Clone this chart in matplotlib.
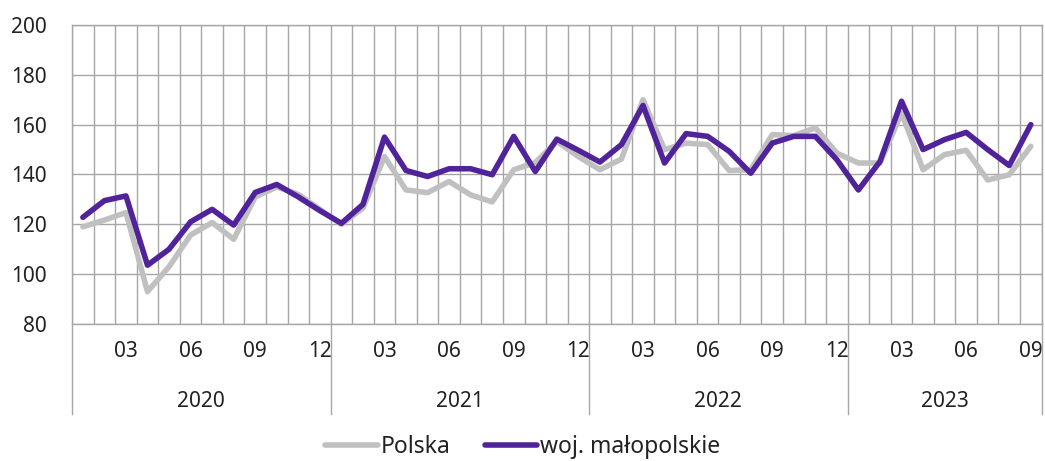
import matplotlib.pyplot as plt
import numpy as np

plt.rcParams['font.family'] = ['Noto Sans', 'DejaVu Sans']

years = ['2020', '2021', '2022', '2023']
months_per_year = [12, 12, 12, 9]

polska = [119, 121.7, 124.7, 93, 103, 115.7, 120.7, 114, 131, 135, 132, 126,
          120, 126.5, 147.2, 133.8, 132.7, 137.2, 131.8, 129, 141.9, 144.8, 153.3, 147.2,
          141.9, 146.2, 170, 150, 152.6, 152, 141.6, 141.9, 156, 155.6, 158.7, 148.6,
          144.6, 144.6, 164.7, 141.9, 148, 149.7, 137.8, 139.9, 151.3]
malopolskie = [122.8, 129.5, 131.4, 103.6, 110, 121, 126, 119.7, 132.8, 136, 131, 125.5,
               120.4, 128, 155, 141.6, 139.2, 142.3, 142.3, 139.9, 155.3, 141.2, 154.2, 149.7,
               145, 152, 167.7, 144.6, 156.4, 155.3, 149.3, 140.5, 152.6, 155.3, 155.3, 145.9,
               133.8, 145.2, 169.4, 150, 154, 156.9, 150, 143.6, 160]

n = len(polska)
x = np.arange(n)
month_nums = [m + 1 for cnt in months_per_year for m in range(cnt)]

fig = plt.figure(figsize=(10.45, 4.61), dpi=100)
ax = fig.add_axes([0.069, 0.2972, 0.9277, 0.6486])

grid_col = '#a6a6a6'
txt_col = '#222222'
fs = 15

ax.plot(x, polska, color='#c0c0c0', lw=4, solid_capstyle='round', label='Polska', zorder=3)
ax.plot(x, malopolskie, color='#51239a', lw=4, solid_capstyle='round', label='woj. małopolskie', zorder=4)

ax.set_xlim(-0.5, n - 0.5)
ax.set_ylim(80, 200)
ax.set_yticks(np.arange(80, 201, 20))
ax.yaxis.grid(True, color=grid_col, lw=1)
for b in np.arange(-0.5, n, 1):
    ax.axvline(b, color=grid_col, lw=1, zorder=1)
for s in ax.spines.values():
    s.set_color(grid_col)
    s.set_linewidth(1)

lab_pos = [i for i in x if month_nums[i] % 3 == 0]
ax.set_xticks(lab_pos)
ax.set_xticklabels(['%02d' % month_nums[i] for i in lab_pos])
ax.tick_params(axis='x', length=0, pad=12, labelsize=fs, colors=txt_col)
ax.tick_params(axis='y', length=0, pad=18, labelsize=fs, colors=txt_col)
ax.set_axisbelow(True)

# year groups below the axis
trans = ax.get_xaxis_transform()
bounds = [-0.5]
for cnt in months_per_year:
    bounds.append(bounds[-1] + cnt)
for b in bounds:
    ax.plot([b, b], [0, -0.3], color=grid_col, lw=1, transform=trans, clip_on=False)
for yr, b0, b1 in zip(years, bounds[:-1], bounds[1:]):
    ax.text((b0 + b1) / 2, -0.26, yr, transform=trans, ha='center', va='center',
            fontsize=fs, color=txt_col)

leg = fig.legend(loc='lower center', bbox_to_anchor=(0.5, -0.04), ncol=2, frameon=False,
                 fontsize=16.5, handlelength=2.3, handletextpad=0.1, columnspacing=1.5)
for t in leg.get_texts():
    t.set_color(txt_col)

fig.savefig('out.png', dpi=100)
